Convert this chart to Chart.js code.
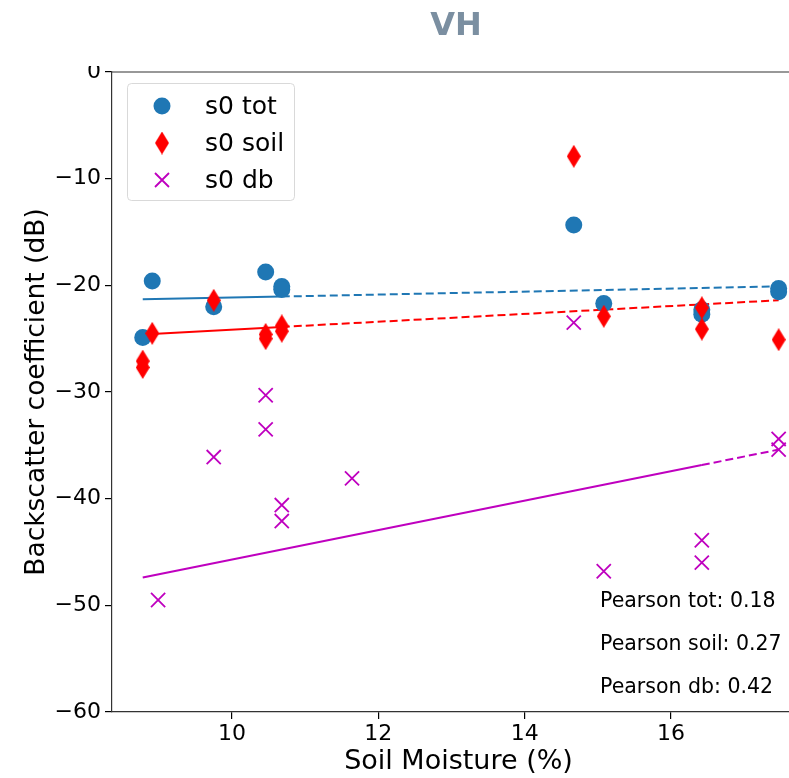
<!DOCTYPE html>
<html>
<head>
<meta charset="utf-8">
<script src="https://cdn.jsdelivr.net/npm/chart.js@4.4.1/dist/chart.umd.min.js"></script>
<style>
  html, body { margin: 0; overflow: hidden; background: #fff; }
  #wrap { width: 789px; height: 778px; overflow: hidden; position: relative; }
  #myChart { position: absolute; left: 0; top: 0; }
</style>
</head>
<body>
<div id="wrap"><canvas id="myChart" width="860" height="778"></canvas></div>
<script>
// valeurs
var totX  = [8.78, 8.91, 9.75, 10.46, 10.68, 10.68, 14.67, 15.08, 16.42, 16.42, 17.47, 17.47];
var totY  = [-24.9, -19.6, -22.0, -18.75, -20.1, -20.4, -14.35, -21.7, -22.3, -22.7, -20.3, -20.6];

var soilX = [8.78, 8.78, 8.91, 9.75, 10.46, 10.46, 10.68, 10.68, 14.67, 15.08, 16.42, 16.42, 17.47];
var soilY = [-27.1, -27.7, -24.5, -21.4, -24.6, -25.0, -23.8, -24.3, -7.9, -22.9, -22.1, -24.1, -25.1];

var dbX   = [8.99, 9.75, 10.46, 10.46, 10.68, 10.68, 11.64, 14.67, 15.08, 16.42, 16.42, 17.47, 17.47];
var dbY   = [-49.5, -36.1, -30.3, -33.5, -40.6, -42.1, -38.1, -23.5, -46.8, -43.9, -46.0, -34.4, -35.4];

// droites de regression (trait plein puis tirets)
var totLineX  = [8.78, 10.68, 17.47];
var totLineY  = [-21.3, -21.05, -20.1];
var soilLineX = [8.78, 10.68, 17.47];
var soilLineY = [-24.6, -23.9, -21.4];
var dbLineX   = [8.78, 16.42, 17.47];
var dbLineY   = [-47.4, -36.85, -35.4];

var seriesLabels = ['s0 tot', 's0 soil', 's0 db'];
var pearsonText = ['Pearson tot: 0.18', 'Pearson soil: 0.27', 'Pearson db: 0.42'];

var xTicks = [10, 12, 14, 16];
var yTicks = [0, -10, -20, -30, -40, -50, -60];

var BLUE = '#1f77b4';
var RED = '#ff0000';
var MAG = '#bf00bf';

function pts(xs, ys) {
    var out = [];
    for (var i = 0; i < xs.length; i++) out.push({x: xs[i], y: ys[i]});
    return out;
}

// losange fin (marqueur 'd' de matplotlib)
function makeDiamond(w, h) {
    var c = document.createElement('canvas');
    c.width = w; c.height = h;
    var g = c.getContext('2d');
    g.fillStyle = RED;
    g.beginPath();
    g.moveTo(w / 2, 0);
    g.lineTo(w, h / 2);
    g.lineTo(w / 2, h);
    g.lineTo(0, h / 2);
    g.closePath();
    g.fill();
    return c;
}
var diamond = makeDiamond(14, 23);

var FONT = "'DejaVu Sans', sans-serif";

const overlay = {
    id: 'overlay',
    afterDraw(chart) {
        const ctx = chart.ctx;
        const a = chart.chartArea;
        ctx.save();
        // bord du haut (le bord droit sort de l'image)
        ctx.strokeStyle = '#333';
        ctx.lineWidth = 1.2;
        ctx.beginPath();
        ctx.moveTo(a.left, a.top);
        ctx.lineTo(a.right, a.top);
        ctx.stroke();
        // le haut du "0" est coupe sur l'original
        ctx.fillStyle = '#fff';
        ctx.fillRect(0, 0, a.left - 4, a.top - 6);
        // titre
        ctx.fillStyle = '#7b8fa1';
        ctx.font = 'bold 32px ' + FONT;
        ctx.textAlign = 'center';
        ctx.textBaseline = 'middle';
        ctx.fillText('VH', 456, 27);

        // legende
        var lx = 127, ly = 83, lw = 167, lh = 117;
        ctx.globalAlpha = 0.8;
        ctx.fillStyle = '#fff';
        ctx.strokeStyle = '#d0d0d0';
        ctx.lineWidth = 1;
        ctx.beginPath();
        ctx.roundRect(lx + 0.5, ly + 0.5, lw, lh, 4);
        ctx.fill();
        ctx.stroke();
        ctx.globalAlpha = 1;
        ctx.font = '25px ' + FONT;
        ctx.textAlign = 'left';
        ctx.textBaseline = 'middle';
        for (var i = 0; i < seriesLabels.length; i++) {
            var my = 106 + i * 37;
            if (i === 0) {
                ctx.fillStyle = BLUE;
                ctx.beginPath();
                ctx.arc(162, my, 8.5, 0, Math.PI * 2);
                ctx.fill();
            } else if (i === 1) {
                ctx.drawImage(diamond, 162 - 7, my - 11.5);
            } else {
                ctx.strokeStyle = MAG;
                ctx.lineWidth = 1.8;
                ctx.beginPath();
                ctx.moveTo(155, my - 7); ctx.lineTo(169, my + 7);
                ctx.moveTo(155, my + 7); ctx.lineTo(169, my - 7);
                ctx.stroke();
            }
            ctx.fillStyle = '#000';
            ctx.fillText(seriesLabels[i], 205, my + 1);
        }

        // coefficients de Pearson
        ctx.font = '20.5px ' + FONT;
        ctx.fillStyle = '#000';
        for (var j = 0; j < pearsonText.length; j++) {
            ctx.fillText(pearsonText[j], 600, 602 + j * 43);
        }
        ctx.restore();
    }
};

const config = {
    type: 'scatter',
    data: {
        datasets: [
            { label: seriesLabels[2], data: pts(dbX, dbY), order: 1,
              pointStyle: 'crossRot', pointRadius: 10, pointHoverRadius: 10,
              borderColor: MAG, backgroundColor: MAG, pointBorderWidth: 1.8 },
            { label: seriesLabels[1], data: pts(soilX, soilY), order: 2,
              pointStyle: diamond, pointRadius: 10,
              borderColor: RED, backgroundColor: RED },
            { label: seriesLabels[0], data: pts(totX, totY), order: 3,
              pointStyle: 'circle', pointRadius: 8.5, pointHoverRadius: 8.5,
              borderWidth: 0, backgroundColor: BLUE, borderColor: BLUE },

            { data: pts(totLineX.slice(0, 2), totLineY.slice(0, 2)), order: 4, showLine: true,
              pointRadius: 0, borderColor: BLUE, borderWidth: 2 },
            { data: pts(totLineX.slice(1), totLineY.slice(1)), order: 4, showLine: true,
              pointRadius: 0, borderColor: BLUE, borderWidth: 2, borderDash: [8, 4] },
            { data: pts(soilLineX.slice(0, 2), soilLineY.slice(0, 2)), order: 4, showLine: true,
              pointRadius: 0, borderColor: RED, borderWidth: 2 },
            { data: pts(soilLineX.slice(1), soilLineY.slice(1)), order: 4, showLine: true,
              pointRadius: 0, borderColor: RED, borderWidth: 2, borderDash: [8, 4] },
            { data: pts(dbLineX.slice(0, 2), dbLineY.slice(0, 2)), order: 4, showLine: true,
              pointRadius: 0, borderColor: MAG, borderWidth: 2 },
            { data: pts(dbLineX.slice(1), dbLineY.slice(1)), order: 4, showLine: true,
              pointRadius: 0, borderColor: MAG, borderWidth: 2, borderDash: [8, 4] }
        ]
    },
    options: {
        responsive: false,
        animation: false,
        events: [],
        layout: { padding: { top: 72, right: 55, left: 0, bottom: 0 } },
        plugins: {
            legend: { display: false },
            title: { display: false },
            tooltip: { enabled: false }
        },
        scales: {
            x: {
                type: 'linear',
                min: 8.36,
                max: 17.83,
                afterBuildTicks: function (s) { s.ticks = xTicks.map(function (v) { return {value: v}; }); },
                afterFit: function (s) { s.height = 66; },
                grid: { display: true, drawOnChartArea: false, drawTicks: true, tickLength: 7, color: '#000', lineWidth: 1.2 },
                border: { display: true, color: '#333', width: 1.2 },
                ticks: { color: '#000', font: { family: FONT, size: 22 }, padding: 2, maxRotation: 0 },
                title: { display: true, text: 'Soil Moisture (%)', color: '#000',
                         font: { family: FONT, size: 27 }, padding: { top: 0, bottom: 0 } }
            },
            y: {
                type: 'linear',
                min: -60,
                max: 0,
                afterBuildTicks: function (s) { s.ticks = yTicks.map(function (v) { return {value: v}; }); },
                afterFit: function (s) { s.width = 112; },
                grid: { display: true, drawOnChartArea: false, drawTicks: true, tickLength: 7, color: '#000', lineWidth: 1.2 },
                border: { display: true, color: '#333', width: 1.2 },
                ticks: {
                    color: '#000', font: { family: FONT, size: 22 }, padding: 4,
                    callback: function (v) { return (v < 0 ? '\u2212' : '') + Math.abs(v); }
                },
                title: { display: true, text: 'Backscatter coefficient (dB)', color: '#000',
                         font: { family: FONT, size: 26.5 }, padding: { top: 21, bottom: 0 } }
            }
        }
    },
    plugins: [overlay]
};

const myChart = new Chart(document.getElementById('myChart'), config);
</script>
</body>
</html>
